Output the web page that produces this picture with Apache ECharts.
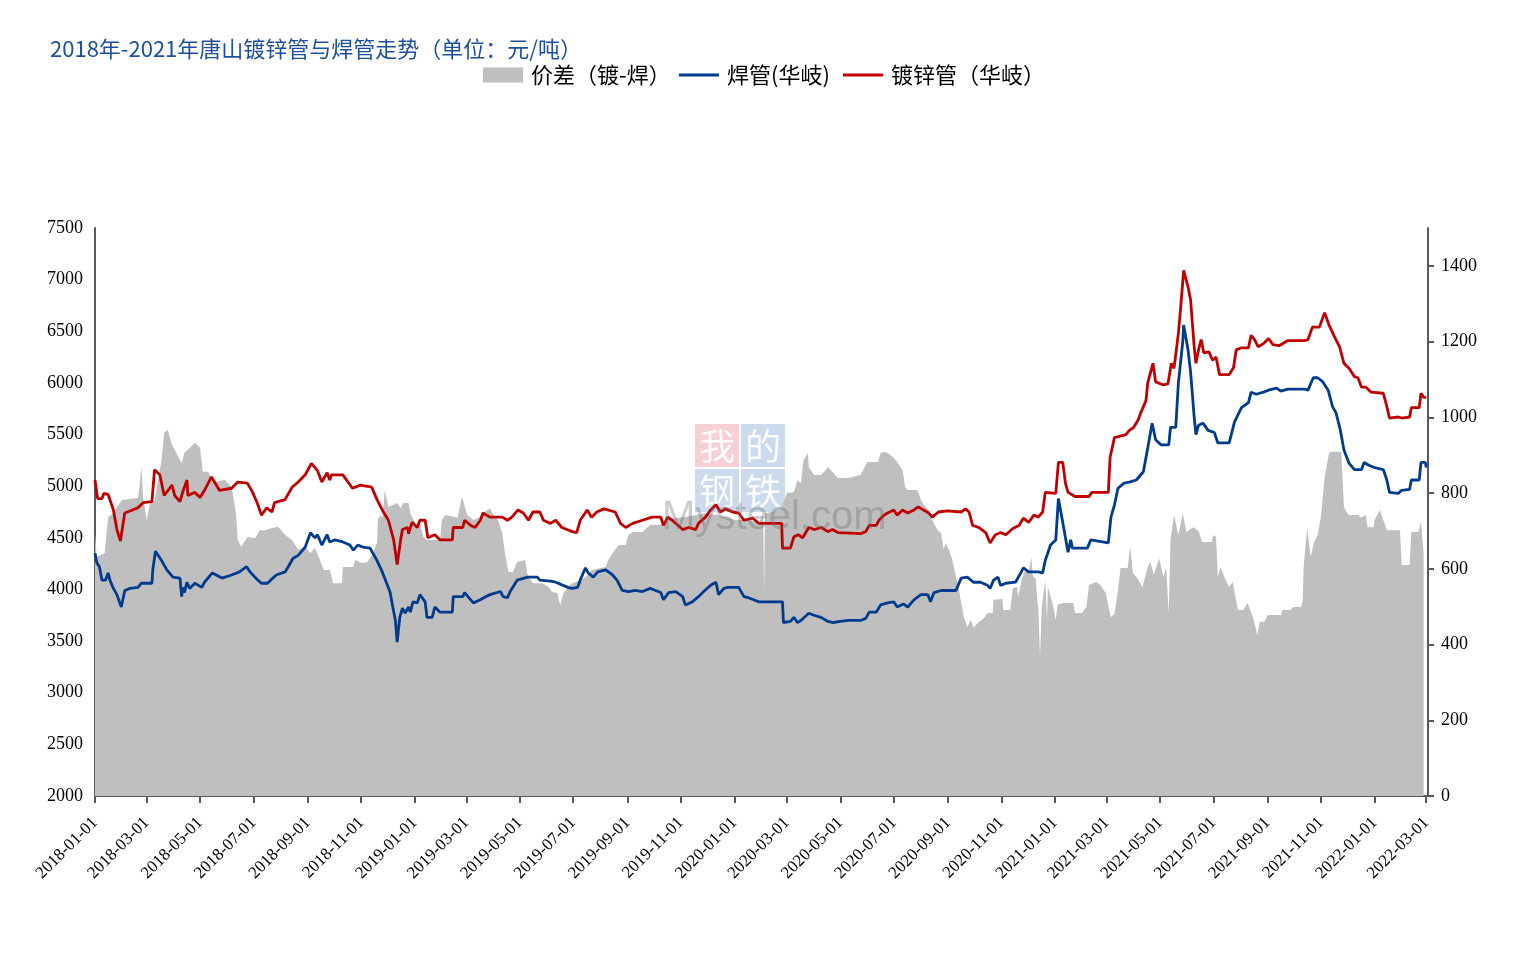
<!DOCTYPE html>
<html><head><meta charset="utf-8">
<script src="https://cdn.jsdelivr.net/npm/echarts@6/dist/echarts.min.js"></script>
<style>html,body{margin:0;padding:0;background:#fff}#chart{width:1530px;height:976px}</style>
</head><body><div id="chart"></div>
<script>
// ---------- data ----------
const titleText = '2018年-2021年唐山镀锌管与焊管走势（单位：元/吨）';
const seriesNames = ['价差（镀-焊）', '焊管(华岐)', '镀锌管（华岐）'];

const xTickLabels = ['2018-01-01','2018-03-01','2018-05-01','2018-07-01','2018-09-01','2018-11-01',
  '2019-01-01','2019-03-01','2019-05-01','2019-07-01','2019-09-01','2019-11-01',
  '2020-01-01','2020-03-01','2020-05-01','2020-07-01','2020-09-01','2020-11-01',
  '2021-01-01','2021-03-01','2021-05-01','2021-07-01','2021-09-01','2021-11-01',
  '2022-01-01','2022-03-01'];
const xRange = ['2018-01-01', '2022-03-03'];
const leftTickLabels = [2000,2500,3000,3500,4000,4500,5000,5500,6000,6500,7000,7500];
const rightTickLabels = [0,200,400,600,800,1000,1200,1400];

// 镀锌管（华岐）, 元/吨
const galvanized = [['2018-01-01',5060],['2018-01-04',4880],['2018-01-09',4880],['2018-01-11',4930],['2018-01-16',4920],['2018-01-22',4770],['2018-01-26',4580],['2018-01-30',4470],['2018-02-04',4740],['2018-02-07',4750],['2018-02-19',4790],['2018-02-25',4840],['2018-03-07',4850],['2018-03-10',5160],['2018-03-16',5110],['2018-03-21',4910],['2018-03-30',5010],['2018-04-02',4910],['2018-04-08',4850],['2018-04-11',4940],['2018-04-16',5060],['2018-04-17',4910],['2018-04-25',4940],['2018-05-01',4890],['2018-05-06',4960],['2018-05-14',5090],['2018-05-23',4960],['2018-06-06',4980],['2018-06-13',5040],['2018-06-24',5030],['2018-06-30',4940],['2018-07-06',4820],['2018-07-10',4720],['2018-07-16',4790],['2018-07-22',4750],['2018-07-25',4840],['2018-08-06',4870],['2018-08-14',4990],['2018-08-21',5040],['2018-08-29',5110],['2018-09-05',5220],['2018-09-12',5150],['2018-09-17',5040],['2018-09-23',5130],['2018-09-26',5060],['2018-09-28',5110],['2018-10-11',5110],['2018-10-22',4980],['2018-10-31',5010],['2018-11-13',4990],['2018-11-19',4870],['2018-11-25',4770],['2018-12-02',4670],['2018-12-08',4480],['2018-12-12',4240],['2018-12-16',4480],['2018-12-18',4580],['2018-12-24',4600],['2018-12-25',4540],['2018-12-29',4650],['2019-01-04',4600],['2019-01-07',4670],['2019-01-13',4670],['2019-01-16',4500],['2019-01-24',4530],['2019-01-30',4480],['2019-02-13',4480],['2019-02-14',4600],['2019-02-25',4600],['2019-02-27',4670],['2019-03-06',4620],['2019-03-11',4600],['2019-03-17',4670],['2019-03-20',4740],['2019-03-28',4700],['2019-04-11',4700],['2019-04-17',4670],['2019-04-22',4700],['2019-04-29',4770],['2019-05-05',4740],['2019-05-11',4670],['2019-05-16',4750],['2019-05-24',4750],['2019-05-28',4670],['2019-06-05',4640],['2019-06-11',4670],['2019-06-18',4600],['2019-06-30',4560],['2019-07-05',4550],['2019-07-09',4670],['2019-07-17',4770],['2019-07-22',4700],['2019-07-28',4750],['2019-08-05',4780],['2019-08-18',4750],['2019-08-24',4640],['2019-08-30',4600],['2019-09-07',4640],['2019-09-18',4670],['2019-09-29',4700],['2019-10-09',4700],['2019-10-12',4620],['2019-10-17',4700],['2019-10-22',4670],['2019-11-03',4580],['2019-11-10',4600],['2019-11-18',4580],['2019-11-21',4640],['2019-11-29',4700],['2019-12-05',4770],['2019-12-11',4820],['2019-12-16',4750],['2019-12-22',4780],['2019-12-30',4750],['2020-01-06',4740],['2020-01-12',4670],['2020-01-22',4690],['2020-01-29',4640],['2020-02-24',4640],['2020-02-25',4400],['2020-03-05',4400],['2020-03-09',4510],['2020-03-14',4530],['2020-03-19',4500],['2020-03-26',4600],['2020-04-01',4580],['2020-04-09',4600],['2020-04-17',4560],['2020-04-22',4580],['2020-04-29',4550],['2020-05-24',4540],['2020-05-30',4560],['2020-06-03',4620],['2020-06-11',4620],['2020-06-14',4670],['2020-06-20',4720],['2020-06-24',4740],['2020-07-01',4770],['2020-07-05',4720],['2020-07-11',4770],['2020-07-17',4740],['2020-07-24',4770],['2020-07-29',4800],['2020-08-04',4770],['2020-08-10',4740],['2020-08-14',4700],['2020-08-21',4750],['2020-08-31',4760],['2020-09-16',4750],['2020-09-21',4780],['2020-09-25',4750],['2020-09-29',4620],['2020-10-06',4600],['2020-10-14',4550],['2020-10-19',4450],['2020-10-25',4530],['2020-10-31',4550],['2020-11-06',4530],['2020-11-14',4590],['2020-11-21',4620],['2020-11-26',4690],['2020-12-02',4650],['2020-12-08',4720],['2020-12-13',4700],['2020-12-18',4750],['2020-12-21',4940],['2021-01-02',4930],['2021-01-05',5230],['2021-01-10',5230],['2021-01-13',5030],['2021-01-16',4940],['2021-01-24',4900],['2021-02-09',4900],['2021-02-12',4940],['2021-03-03',4940],['2021-03-05',5280],['2021-03-10',5470],['2021-03-23',5500],['2021-03-27',5540],['2021-04-01',5570],['2021-04-06',5640],['2021-04-09',5710],['2021-04-15',5830],['2021-04-17',6000],['2021-04-23',6190],['2021-04-26',6010],['2021-05-05',5980],['2021-05-10',5990],['2021-05-14',6190],['2021-05-17',6140],['2021-05-22',6480],['2021-05-25',6770],['2021-05-28',7090],['2021-06-02',6930],['2021-06-05',6800],['2021-06-09',6350],['2021-06-11',6190],['2021-06-14',6320],['2021-06-17',6420],['2021-06-20',6290],['2021-06-26',6300],['2021-06-30',6220],['2021-07-04',6250],['2021-07-08',6080],['2021-07-19',6080],['2021-07-24',6150],['2021-07-27',6320],['2021-08-02',6340],['2021-08-10',6340],['2021-08-13',6460],['2021-08-17',6420],['2021-08-21',6350],['2021-08-27',6380],['2021-09-02',6430],['2021-09-07',6370],['2021-09-14',6360],['2021-09-24',6410],['2021-10-13',6410],['2021-10-17',6420],['2021-10-22',6540],['2021-10-30',6540],['2021-11-05',6680],['2021-11-10',6560],['2021-11-16',6450],['2021-11-22',6350],['2021-11-27',6190],['2021-12-03',6140],['2021-12-09',6060],['2021-12-13',6050],['2021-12-17',5960],['2021-12-22',5960],['2021-12-28',5910],['2022-01-11',5900],['2022-01-15',5770],['2022-01-18',5660],['2022-01-28',5670],['2022-02-01',5660],['2022-02-10',5670],['2022-02-12',5760],['2022-02-21',5760],['2022-02-23',5900],['2022-02-26',5860],['2022-03-01',5860]];

// 焊管(华岐), 元/吨
const welded = [['2018-01-01',4350],['2018-01-03',4260],['2018-01-06',4220],['2018-01-09',4090],['2018-01-13',4090],['2018-01-16',4160],['2018-01-18',4090],['2018-01-22',4010],['2018-01-26',3950],['2018-01-31',3830],['2018-02-04',3990],['2018-02-10',4010],['2018-02-19',4020],['2018-02-23',4060],['2018-03-07',4060],['2018-03-08',4190],['2018-03-11',4370],['2018-03-18',4280],['2018-03-24',4190],['2018-03-31',4120],['2018-04-08',4110],['2018-04-10',3930],['2018-04-11',4020],['2018-04-13',3970],['2018-04-16',4070],['2018-04-19',4010],['2018-04-25',4060],['2018-05-03',4020],['2018-05-06',4070],['2018-05-15',4160],['2018-05-26',4110],['2018-06-06',4140],['2018-06-15',4170],['2018-06-23',4220],['2018-06-27',4170],['2018-07-06',4090],['2018-07-10',4060],['2018-07-17',4060],['2018-07-23',4110],['2018-07-27',4140],['2018-08-06',4170],['2018-08-09',4210],['2018-08-15',4300],['2018-08-21',4330],['2018-08-29',4410],['2018-09-04',4550],['2018-09-09',4500],['2018-09-12',4530],['2018-09-17',4430],['2018-09-23',4530],['2018-09-26',4460],['2018-10-02',4480],['2018-10-11',4460],['2018-10-19',4430],['2018-10-23',4380],['2018-10-28',4430],['2018-11-03',4410],['2018-11-11',4400],['2018-11-19',4280],['2018-11-25',4170],['2018-11-30',4060],['2018-12-04',3970],['2018-12-07',3830],['2018-12-10',3700],['2018-12-12',3490],['2018-12-15',3730],['2018-12-18',3820],['2018-12-21',3770],['2018-12-25',3830],['2018-12-27',3780],['2018-12-30',3880],['2019-01-04',3870],['2019-01-07',3950],['2019-01-13',3880],['2019-01-15',3730],['2019-01-21',3730],['2019-01-24',3830],['2019-01-30',3780],['2019-02-13',3780],['2019-02-14',3930],['2019-02-25',3930],['2019-02-27',3970],['2019-03-06',3900],['2019-03-09',3870],['2019-03-17',3900],['2019-03-23',3930],['2019-03-28',3950],['2019-04-09',3980],['2019-04-12',3930],['2019-04-17',3920],['2019-04-20',3980],['2019-04-28',4090],['2019-05-10',4120],['2019-05-21',4120],['2019-05-24',4090],['2019-06-05',4080],['2019-06-11',4070],['2019-06-25',4020],['2019-06-30',4010],['2019-07-06',4020],['2019-07-09',4090],['2019-07-15',4210],['2019-07-18',4160],['2019-07-24',4120],['2019-07-29',4170],['2019-08-07',4190],['2019-08-15',4140],['2019-08-20',4090],['2019-08-26',3990],['2019-09-02',3980],['2019-09-10',3990],['2019-09-18',3980],['2019-09-27',4010],['2019-10-03',3990],['2019-10-09',3970],['2019-10-12',3900],['2019-10-18',3970],['2019-10-26',3980],['2019-11-03',3930],['2019-11-06',3850],['2019-11-14',3880],['2019-11-21',3930],['2019-11-27',3980],['2019-12-05',4040],['2019-12-11',4070],['2019-12-14',3950],['2019-12-20',4010],['2019-12-25',4020],['2020-01-06',4020],['2020-01-12',3930],['2020-01-17',3920],['2020-01-23',3900],['2020-01-29',3880],['2020-02-25',3880],['2020-02-26',3680],['2020-03-05',3690],['2020-03-09',3730],['2020-03-13',3680],['2020-03-17',3700],['2020-03-26',3770],['2020-04-01',3750],['2020-04-09',3730],['2020-04-17',3690],['2020-04-23',3680],['2020-05-01',3690],['2020-05-10',3700],['2020-05-24',3700],['2020-05-30',3720],['2020-06-03',3780],['2020-06-11',3780],['2020-06-16',3850],['2020-06-24',3870],['2020-07-01',3880],['2020-07-05',3830],['2020-07-12',3860],['2020-07-17',3830],['2020-07-24',3900],['2020-08-01',3950],['2020-08-09',3950],['2020-08-12',3880],['2020-08-16',3970],['2020-08-24',3990],['2020-09-10',3990],['2020-09-16',4110],['2020-09-23',4120],['2020-09-30',4070],['2020-10-08',4070],['2020-10-16',4040],['2020-10-19',4010],['2020-10-23',4090],['2020-10-28',4120],['2020-10-31',4040],['2020-11-06',4060],['2020-11-17',4070],['2020-11-23',4160],['2020-11-26',4210],['2020-12-02',4170],['2020-12-13',4170],['2020-12-18',4160],['2020-12-21',4280],['2020-12-27',4430],['2021-01-02',4480],['2021-01-05',4880],['2021-01-11',4600],['2021-01-16',4360],['2021-01-19',4480],['2021-01-21',4400],['2021-02-07',4400],['2021-02-11',4480],['2021-03-03',4450],['2021-03-06',4700],['2021-03-10',4820],['2021-03-14',4980],['2021-03-21',5030],['2021-03-27',5040],['2021-04-04',5060],['2021-04-12',5140],['2021-04-17',5370],['2021-04-22',5610],['2021-04-26',5450],['2021-05-02',5400],['2021-05-11',5400],['2021-05-13',5570],['2021-05-19',5570],['2021-05-22',6000],['2021-05-27',6400],['2021-05-28',6560],['2021-06-02',6320],['2021-06-05',6100],['2021-06-09',5670],['2021-06-11',5500],['2021-06-14',5590],['2021-06-19',5610],['2021-06-25',5540],['2021-07-02',5520],['2021-07-06',5420],['2021-07-19',5420],['2021-07-25',5620],['2021-08-02',5760],['2021-08-10',5810],['2021-08-13',5910],['2021-08-19',5890],['2021-08-27',5910],['2021-09-02',5930],['2021-09-11',5950],['2021-09-16',5920],['2021-09-24',5940],['2021-10-13',5940],['2021-10-17',5930],['2021-10-23',6050],['2021-10-28',6050],['2021-11-03',6010],['2021-11-09',5930],['2021-11-14',5770],['2021-11-18',5710],['2021-11-23',5540],['2021-11-27',5350],['2021-12-03',5220],['2021-12-09',5160],['2021-12-17',5160],['2021-12-20',5230],['2021-12-26',5200],['2022-01-01',5180],['2022-01-11',5160],['2022-01-15',5060],['2022-01-18',4940],['2022-01-28',4930],['2022-02-01',4960],['2022-02-10',4970],['2022-02-12',5060],['2022-02-21',5060],['2022-02-23',5230],['2022-02-28',5230],['2022-03-01',5180]];

// 价差（镀-焊）, 元/吨 (right axis)
const spread = [['2018-01-01',695],['2018-01-03',631],['2018-01-12',642],['2018-01-16',737],['2018-01-22',747],['2018-01-26',763],['2018-02-01',782],['2018-02-19',787],['2018-02-21',820],['2018-02-23',869],['2018-02-25',787],['2018-03-01',729],['2018-03-05',774],['2018-03-10',780],['2018-03-18',887],['2018-03-21',959],['2018-03-25',967],['2018-03-30',927],['2018-04-02',914],['2018-04-10',879],['2018-04-13',906],['2018-04-25',932],['2018-05-01',920],['2018-05-04',856],['2018-05-10',856],['2018-05-14',840],['2018-05-20',830],['2018-05-29',835],['2018-06-06',816],['2018-06-11',747],['2018-06-13',676],['2018-06-17',658],['2018-06-24',684],['2018-07-03',681],['2018-07-08',702],['2018-07-14',702],['2018-07-22',708],['2018-07-29',711],['2018-08-06',690],['2018-08-14',676],['2018-08-21',650],['2018-08-29',658],['2018-09-04',642],['2018-09-09',655],['2018-09-15',623],['2018-09-19',597],['2018-09-26',597],['2018-09-30',562],['2018-10-10',562],['2018-10-11',605],['2018-10-23',605],['2018-10-25',623],['2018-11-02',615],['2018-11-08',618],['2018-11-13',636],['2018-11-19',668],['2018-11-20',729],['2018-11-23',742],['2018-11-25',735],['2018-11-28',808],['2018-12-02',763],['2018-12-12',774],['2018-12-16',760],['2018-12-19',774],['2018-12-25',774],['2018-12-27',747],['2019-01-04',710],['2019-01-07',720],['2019-01-11',684],['2019-01-15',676],['2019-01-30',676],['2019-02-01',729],['2019-02-05',742],['2019-02-19',735],['2019-02-24',790],['2019-02-25',787],['2019-03-02',742],['2019-03-09',729],['2019-03-15',735],['2019-03-20',747],['2019-03-28',760],['2019-04-01',742],['2019-04-06',729],['2019-04-11',695],['2019-04-14',642],['2019-04-18',592],['2019-04-23',590],['2019-04-28',618],['2019-05-07',623],['2019-05-10',584],['2019-05-16',562],['2019-05-27',562],['2019-06-03',552],['2019-06-07',539],['2019-06-13',536],['2019-06-16',504],['2019-06-20',536],['2019-06-25',552],['2019-06-30',562],['2019-07-09',570],['2019-07-15',578],['2019-07-22',597],['2019-08-07',605],['2019-08-10',623],['2019-08-15',642],['2019-08-22',663],['2019-08-30',663],['2019-09-02',689],['2019-09-07',697],['2019-09-18',697],['2019-09-27',716],['2019-10-09',716],['2019-10-14',729],['2019-10-26',734],['2019-11-06',737],['2019-11-18',742],['2019-11-29',747],['2019-12-11',742],['2019-12-22',737],['2020-01-02',729],['2020-01-17',729],['2020-01-29',721],['2020-02-03',747],['2020-02-04',536],['2020-02-05',747],['2020-02-23',755],['2020-03-01',800],['2020-03-09',803],['2020-03-13',834],['2020-03-17',826],['2020-03-20',887],['2020-03-25',906],['2020-03-26',869],['2020-04-01',848],['2020-04-09',848],['2020-04-12',855],['2020-04-17',869],['2020-04-28',840],['2020-05-10',840],['2020-05-24',848],['2020-05-28',865],['2020-06-01',882],['2020-06-13',882],['2020-06-16',906],['2020-06-20',909],['2020-06-24',906],['2020-06-30',895],['2020-07-05',882],['2020-07-11',861],['2020-07-14',816],['2020-07-17',808],['2020-07-28',808],['2020-08-01',782],['2020-08-04',769],['2020-08-10',755],['2020-08-14',729],['2020-08-20',702],['2020-08-24',695],['2020-08-27',650],['2020-08-29',668],['2020-09-02',650],['2020-09-06',623],['2020-09-10',578],['2020-09-13',552],['2020-09-16',510],['2020-09-19',473],['2020-09-23',446],['2020-09-27',465],['2020-09-30',444],['2020-10-05',457],['2020-10-12',470],['2020-10-16',483],['2020-10-22',483],['2020-10-23',518],['2020-11-02',520],['2020-11-03',491],['2020-11-11',491],['2020-11-14',549],['2020-11-19',552],['2020-11-20',526],['2020-11-24',570],['2020-11-28',597],['2020-12-02',590],['2020-12-05',631],['2020-12-07',580],['2020-12-10',575],['2020-12-12',512],['2020-12-13',499],['2020-12-15',367],['2020-12-17',499],['2020-12-21',570],['2020-12-23',465],['2020-12-24',552],['2020-12-29',512],['2021-01-02',465],['2021-01-04',505],['2021-01-11',510],['2021-01-22',510],['2021-01-24',483],['2021-02-01',483],['2021-02-03',486],['2021-02-06',499],['2021-02-09',557],['2021-02-17',565],['2021-02-22',557],['2021-02-28',536],['2021-03-04',491],['2021-03-06',473],['2021-03-10',480],['2021-03-14',544],['2021-03-17',602],['2021-03-25',602],['2021-03-28',658],['2021-03-31',589],['2021-04-05',576],['2021-04-11',552],['2021-04-17',605],['2021-04-20',618],['2021-04-24',584],['2021-04-30',628],['2021-05-05',578],['2021-05-08',605],['2021-05-11',483],['2021-05-13',676],['2021-05-17',742],['2021-05-22',689],['2021-05-27',747],['2021-05-31',697],['2021-06-08',710],['2021-06-14',700],['2021-06-18',671],['2021-06-29',671],['2021-07-01',689],['2021-07-04',684],['2021-07-06',578],['2021-07-09',605],['2021-07-15',570],['2021-07-19',552],['2021-07-23',565],['2021-07-29',491],['2021-08-04',491],['2021-08-09',510],['2021-08-15',473],['2021-08-18',446],['2021-08-20',425],['2021-08-23',460],['2021-08-28',460],['2021-09-01',478],['2021-09-16',478],['2021-09-18',491],['2021-09-27',491],['2021-09-30',499],['2021-10-09',499],['2021-10-11',518],['2021-10-12',605],['2021-10-16',708],['2021-10-20',631],['2021-10-24',671],['2021-10-28',689],['2021-11-01',742],['2021-11-05',842],['2021-11-10',906],['2021-11-13',909],['2021-11-24',909],['2021-11-27',763],['2021-12-02',742],['2021-12-14',742],['2021-12-16',735],['2021-12-22',742],['2021-12-24',710],['2021-12-31',710],['2022-01-01',729],['2022-01-07',755],['2022-01-11',729],['2022-01-15',702],['2022-01-30',702],['2022-02-01',610],['2022-02-10',610],['2022-02-12',697],['2022-02-20',697],['2022-02-23',724],['2022-02-25',668],['2022-02-26',642]];

// ---------- chart ----------
const T = s => echarts.time.parse(s).getTime();
const toXY = arr => arr.map(([d, v]) => [T(d), v]);
const xTickValues = xTickLabels.map(T);
const serif = "'Liberation Serif', 'Times New Roman', serif";
const cjk = "'Noto Sans CJK SC', sans-serif";
const axisColor = '#595959';
const colors = ['#BFBFBF', '#003B8E', '#C00000'];

const legendBase = (name, left, h) => ({
  left: left, top: 64, padding: 0, itemWidth: 40, itemHeight: h, icon: 'rect',
  textStyle: {fontFamily: cjk, fontSize: 22, color: '#000', padding: [0, 0, 0, 3]},
  data: [name]
});

const chart = echarts.init(document.getElementById('chart'), null, {renderer: 'canvas'});
chart.setOption({
  animation: false,
  backgroundColor: '#ffffff',
  title: {
    text: titleText, left: 50, top: 38, padding: 0,
    textStyle: {fontFamily: cjk, fontSize: 22, fontWeight: 'normal', color: '#1D4F9C'}
  },
  legend: [
    legendBase(seriesNames[0], 483, 15),
    legendBase(seriesNames[1], 679, 3),
    legendBase(seriesNames[2], 843, 3)
  ],
  grid: {left: 95, right: 102, top: 228, bottom: 180, containLabel: false},
  xAxis: {
    type: 'value', min: T(xRange[0]), max: T(xRange[1]), scale: true,
    axisLine: {show: true, onZero: false, lineStyle: {color: axisColor, width: 2}},
    axisTick: {show: true, length: 7, lineStyle: {color: axisColor, width: 2}, customValues: xTickValues},
    axisLabel: {
      customValues: xTickValues, rotate: 45, margin: 24, color: '#000',
      fontFamily: serif, fontSize: 17, hideOverlap: false,
      formatter: v => echarts.time.format(v, '{yyyy}-{MM}-{dd}', false)
    },
    splitLine: {show: false}
  },
  yAxis: [{
    type: 'value', position: 'left', min: leftTickLabels[0], max: leftTickLabels[leftTickLabels.length - 1], interval: 500,
    axisLine: {show: true, lineStyle: {color: axisColor, width: 2}},
    axisTick: {show: false},
    axisLabel: {color: '#000', fontFamily: serif, fontSize: 18, margin: 12, formatter: v => String(v)},
    splitLine: {show: false}
  }, {
    type: 'value', position: 'right', min: 0, max: 1500,
    axisLine: {show: true, lineStyle: {color: axisColor, width: 2}},
    axisTick: {show: true, length: 6, inside: false, lineStyle: {color: axisColor, width: 2}, customValues: rightTickLabels},
    axisLabel: {customValues: rightTickLabels, color: '#000', fontFamily: serif, fontSize: 18, margin: 13, formatter: v => String(v)},
    splitLine: {show: false}
  }],
  series: [{
    name: seriesNames[0], type: 'line', yAxisIndex: 1, data: toXY(spread),
    symbol: 'none', lineStyle: {width: 0, color: colors[0]}, itemStyle: {color: colors[0]},
    areaStyle: {color: colors[0], opacity: 1}, z: 1
  }, {
    name: seriesNames[1], type: 'line', yAxisIndex: 0, data: toXY(welded),
    symbol: 'none', lineStyle: {width: 2.8, color: colors[1]}, itemStyle: {color: colors[1]}, z: 3
  }, {
    name: seriesNames[2], type: 'line', yAxisIndex: 0, data: toXY(galvanized),
    symbol: 'none', lineStyle: {width: 2.8, color: colors[2]}, itemStyle: {color: colors[2]}, z: 4
  }],
  graphic: [
    {type: 'group', left: 695, top: 424, z: 10, silent: true, children: [
      {type: 'rect', shape: {x: 0, y: 0, width: 44, height: 43}, style: {fill: 'rgba(236,150,160,0.45)'}},
      {type: 'rect', shape: {x: 46, y: 0, width: 44, height: 43}, style: {fill: 'rgba(140,175,215,0.45)'}},
      {type: 'rect', shape: {x: 0, y: 45, width: 44, height: 43}, style: {fill: 'rgba(140,175,215,0.45)'}},
      {type: 'rect', shape: {x: 46, y: 45, width: 44, height: 43}, style: {fill: 'rgba(140,175,215,0.45)'}},
      {type: 'text', x: 22, y: 22, style: {text: '我', fill: 'rgba(255,255,255,0.9)', font: "36px 'Noto Sans CJK SC'", align: 'center', verticalAlign: 'middle'}},
      {type: 'text', x: 68, y: 22, style: {text: '的', fill: 'rgba(255,255,255,0.9)', font: "36px 'Noto Sans CJK SC'", align: 'center', verticalAlign: 'middle'}},
      {type: 'text', x: 22, y: 67, style: {text: '钢', fill: 'rgba(255,255,255,0.9)', font: "36px 'Noto Sans CJK SC'", align: 'center', verticalAlign: 'middle'}},
      {type: 'text', x: 68, y: 67, style: {text: '铁', fill: 'rgba(255,255,255,0.9)', font: "36px 'Noto Sans CJK SC'", align: 'center', verticalAlign: 'middle'}}
    ]},
    {type: 'text', left: 662, top: 498, z: 10, silent: true,
      style: {text: 'Mysteel.com', fill: 'rgba(110,110,110,0.35)', font: "40px 'Liberation Sans', sans-serif"}}
  ]
});
</script>
</body></html>
